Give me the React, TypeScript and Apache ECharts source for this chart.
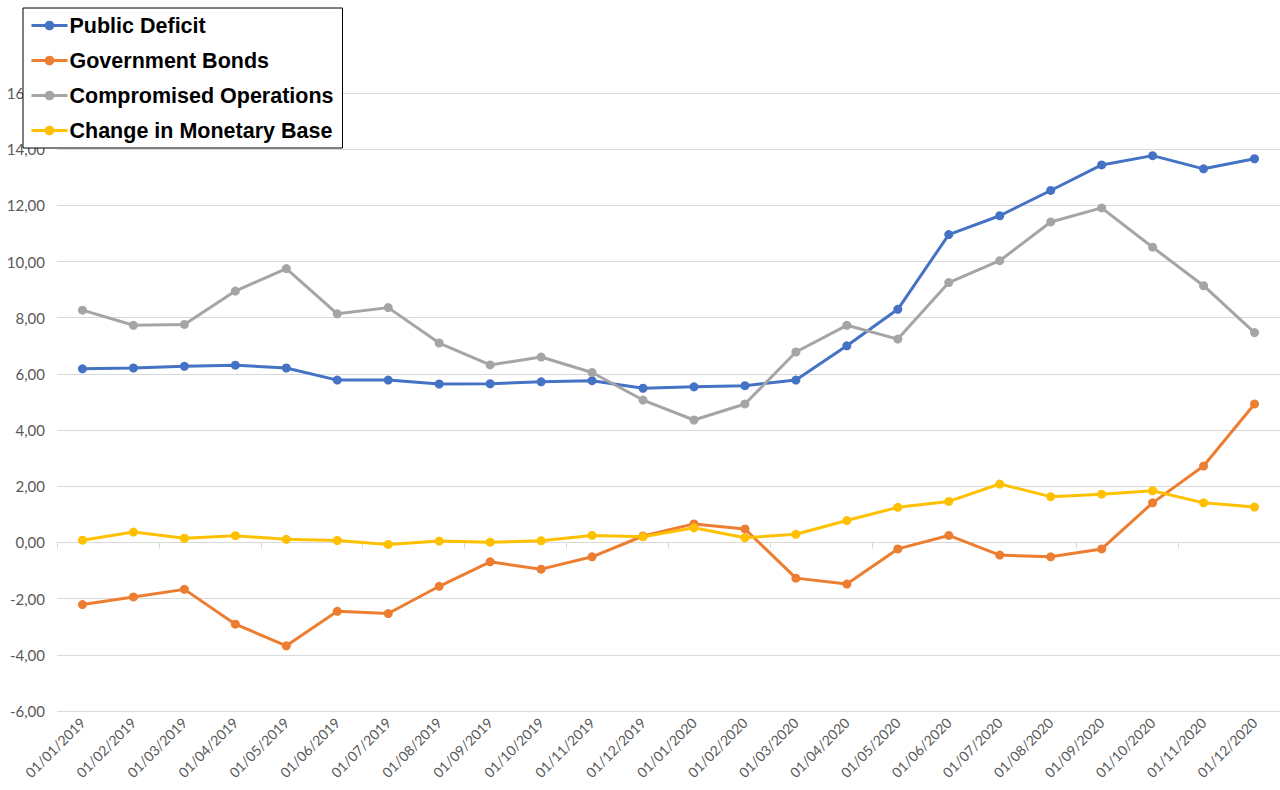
import React, { useEffect, useRef } from "react";
import * as echarts from "echarts";

const categories = [
  "01/01/2019", "01/02/2019", "01/03/2019", "01/04/2019", "01/05/2019", "01/06/2019",
  "01/07/2019", "01/08/2019", "01/09/2019", "01/10/2019", "01/11/2019", "01/12/2019",
  "01/01/2020", "01/02/2020", "01/03/2020", "01/04/2020", "01/05/2020", "01/06/2020",
  "01/07/2020", "01/08/2020", "01/09/2020", "01/10/2020", "01/11/2020", "01/12/2020",
];

const publicDeficit = [6.18, 6.21, 6.27, 6.31, 6.21, 5.78, 5.78, 5.64, 5.65, 5.72, 5.76, 5.49, 5.54, 5.58, 5.78, 7.0, 8.3, 10.96, 11.63, 12.53, 13.44, 13.77, 13.3, 13.66];
const governmentBonds = [-2.21, -1.94, -1.67, -2.91, -3.68, -2.45, -2.53, -1.56, -0.69, -0.95, -0.51, 0.23, 0.66, 0.48, -1.27, -1.48, -0.23, 0.25, -0.45, -0.51, -0.23, 1.41, 2.72, 4.93];
const compromisedOperations = [8.27, 7.73, 7.76, 8.95, 9.75, 8.14, 8.36, 7.1, 6.32, 6.6, 6.05, 5.07, 4.36, 4.93, 6.78, 7.73, 7.24, 9.25, 10.03, 11.41, 11.91, 10.51, 9.14, 7.47];
const changeInMonetaryBase = [0.08, 0.37, 0.15, 0.24, 0.11, 0.07, -0.07, 0.05, 0.01, 0.06, 0.25, 0.2, 0.52, 0.17, 0.29, 0.78, 1.25, 1.46, 2.08, 1.63, 1.72, 1.84, 1.41, 1.26];

const seriesNames = ["Public Deficit", "Government Bonds", "Compromised Operations", "Change in Monetary Base"];
const seriesColors = ["#4472C4", "#ED7D31", "#A5A5A5", "#FFC000"];
const seriesData = [publicDeficit, governmentBonds, compromisedOperations, changeInMonetaryBase];

export default function App() {
  const ref = useRef<HTMLDivElement>(null);
  useEffect(() => {
    if (!ref.current) return;
    const chart = echarts.init(ref.current, undefined, { renderer: "svg" });
    const axisFont = "Lato, 'Open Sans', sans-serif";
    chart.setOption({
      animation: false,
      backgroundColor: "#ffffff",
      grid: { left: 57, right: 0, top: 93, bottom: 79, containLabel: false },
      legend: {
        orient: "vertical",
        left: 23,
        top: 8,
        padding: [6, 9, 6, 7],
        backgroundColor: "#ffffff",
        borderColor: "#000000",
        borderWidth: 1,
        itemGap: 12,
        itemWidth: 36,
        itemHeight: 12,
        data: seriesNames,
        lineStyle: { width: 3 },
        textStyle: {
          fontFamily: "'Liberation Sans', Arial, sans-serif",
          fontWeight: "bold",
          fontSize: 21.5,
          lineHeight: 23,
          color: "#000000",
          padding: [0, 0, 0, -3],
        },
      },
      xAxis: [
        {
          type: "category",
          data: categories,
          position: "bottom",
          axisLine: { show: false, onZero: false },
          axisTick: { show: false },
          axisLabel: {
            rotate: 45,
            margin: 9,
            color: "#595959",
            fontFamily: axisFont,
            fontSize: 14,
            interval: 0,
          },
          splitLine: { show: false },
        },
        {
          type: "category",
          data: categories,
          position: "bottom",
          axisLine: { show: true, onZero: true, lineStyle: { color: "#d9d9d9", width: 1 } },
          axisTick: { show: true, length: 6, lineStyle: { color: "#d9d9d9" } },
          axisLabel: { show: false },
          splitLine: { show: false },
        },
      ],
      yAxis: {
        type: "value",
        min: -6,
        max: 16,
        interval: 2,
        axisLine: { show: false },
        axisTick: { show: false },
        axisLabel: {
          margin: 12,
          color: "#595959",
          fontFamily: axisFont,
          fontSize: 15,
          formatter: (v: number) => v.toFixed(2).replace(".", ","),
        },
        splitLine: { lineStyle: { color: "#d9d9d9", width: 1 } },
      },
      series: seriesNames.map((name, i) => ({
        name,
        type: "line",
        xAxisIndex: 0,
        data: seriesData[i],
        color: seriesColors[i],
        symbol: "circle",
        symbolSize: 9,
        lineStyle: { width: 3, color: seriesColors[i] },
        itemStyle: { color: seriesColors[i] },
      })),
    });
    return () => chart.dispose();
  }, []);
  return (
    <div
      ref={ref}
      style={{ position: "fixed", left: 0, top: 0, width: 1280, height: 790 }}
    />
  );
}
